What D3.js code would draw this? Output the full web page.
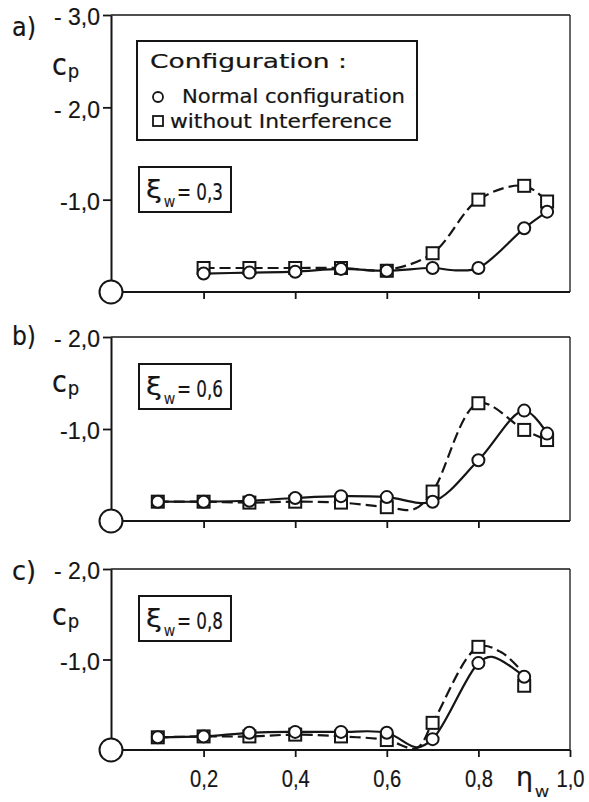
<!DOCTYPE html>
<html><head><meta charset="utf-8">
<script src="https://cdn.jsdelivr.net/npm/d3@7"></script>
<style>
html,body{margin:0;padding:0;background:#fff;}
svg{display:block;font-family:'Liberation Sans Narrow','DejaVu Sans Condensed','Liberation Sans',sans-serif;}
svg text{stroke:#151515;stroke-width:0.2px;}
</style></head><body>
<svg id="chart" width="589" height="802"></svg>
<script>
// ---------- data ----------
const etaTicks = [0.2, 0.4, 0.6, 0.8, 1.0];
const etaTickLabels = ["0,2", "0,4", "0,6", "0,8", "1,0"];
const cpTicksA = [1, 2, 3];
const cpTickLabelsA = ["-1,0", "- 2,0", "- 3,0"];
const cpTicksBC = [1, 2];
const cpTickLabelsBC = ["-1,0", "- 2,0"];
const panelLabels = ["a)", "b)", "c)"];
const xiLabels = ["0,3", "0,6", "0,8"];
const legendTitle = "Configuration :";
const seriesNames = ["Normal configuration", "without Interference"];

// panel a) xi_W = 0,3   (values are -c_p)
const etaA = [0.2, 0.3, 0.4, 0.5, 0.6, 0.7, 0.8, 0.9, 0.95];
const cpA_normal  = [0.20, 0.21, 0.22, 0.25, 0.23, 0.26, 0.26, 0.69, 0.87];
const cpA_without = [0.26, 0.26, 0.26, 0.26, 0.23, 0.42, 1.00, 1.15, 0.98];
// panel b) xi_W = 0,6
const etaB = [0.1, 0.2, 0.3, 0.4, 0.5, 0.6, 0.7, 0.8, 0.9, 0.95];
const cpB_normal  = [0.21, 0.21, 0.22, 0.25, 0.27, 0.26, 0.21, 0.66, 1.20, 0.95];
const cpB_without = [0.21, 0.21, 0.20, 0.21, 0.20, 0.15, 0.32, 1.28, 0.99, 0.88];
// panel c) xi_W = 0,8
const etaC = [0.1, 0.2, 0.3, 0.4, 0.5, 0.6, 0.7, 0.8, 0.9];
const cpC_normal  = [0.14, 0.15, 0.19, 0.20, 0.20, 0.19, 0.12, 0.96, 0.81];
const cpC_without = [0.14, 0.15, 0.15, 0.17, 0.15, 0.11, 0.30, 1.14, 0.71];

// hand-faired curves as drawn in the picture [eta, -cp]
const fitA_normal  = [[0.2,0.20],[0.3,0.21],[0.4,0.22],[0.5,0.25],[0.6,0.23],[0.7,0.26],[0.75,0.235],[0.8,0.26],[0.9,0.69],[0.95,0.87]];
const fitA_without = [[0.2,0.26],[0.3,0.26],[0.4,0.26],[0.5,0.26],[0.6,0.24],[0.7,0.42],[0.8,1.00],[0.9,1.15],[0.95,0.98]];
const fitB_normal  = [[0.1,0.21],[0.2,0.21],[0.3,0.22],[0.4,0.25],[0.5,0.27],[0.6,0.26],[0.7,0.21],[0.8,0.66],[0.9,1.20],[0.95,0.95]];
const fitB_without = [[0.1,0.21],[0.2,0.21],[0.3,0.20],[0.4,0.21],[0.5,0.20],[0.6,0.15],[0.66,0.13],[0.7,0.32],[0.8,1.28],[0.9,0.99],[0.95,0.88]];
const fitC_normal  = [[0.1,0.14],[0.2,0.15],[0.3,0.19],[0.4,0.20],[0.5,0.20],[0.6,0.19],[0.665,0.03],[0.7,0.12],[0.8,0.96],[0.83,1.03],[0.9,0.81]];
const fitC_without = [[0.1,0.14],[0.2,0.15],[0.3,0.15],[0.4,0.17],[0.5,0.15],[0.6,0.11],[0.665,0.02],[0.7,0.30],[0.8,1.14],[0.85,1.08],[0.9,0.84]];

// ---------- layout ----------
const INK = "#151515";
const svg = d3.select("#chart");
const x = d3.scaleLinear().domain([0, 1]).range([112, 570]);

const panels = [
  {label: panelLabels[0], xi: xiLabels[0], top: 15, bottom: 292, ymax: 3,
   ticks: cpTicksA, tickLabels: cpTickLabelsA, eta: etaA, n: cpA_normal, w: cpA_without,
   fitN: fitA_normal, fitW: fitA_without, xiBoxY: 167, labelDy: 13, cpY: 75, legend: true, xLabels: false},
  {label: panelLabels[1], xi: xiLabels[1], top: 337, bottom: 521, ymax: 2,
   ticks: cpTicksBC, tickLabels: cpTickLabelsBC, eta: etaB, n: cpB_normal, w: cpB_without,
   fitN: fitB_normal, fitW: fitB_without, xiBoxY: 364, labelDy: 0, cpY: 392, legend: false, xLabels: false},
  {label: panelLabels[2], xi: xiLabels[2], top: 569, bottom: 750, ymax: 2,
   ticks: cpTicksBC, tickLabels: cpTickLabelsBC, eta: etaC, n: cpC_normal, w: cpC_without,
   fitN: fitC_normal, fitW: fitC_without, xiBoxY: 596, labelDy: 3, cpY: 625, legend: false, xLabels: true}
];

panels.forEach(p => {
  const y = d3.scaleLinear().domain([0, p.ymax]).range([p.bottom, p.top]);
  const g = svg.append("g");
  const x0 = x.range()[0] - 1, x1 = x.range()[1];

  // thin frame (top & right)
  g.append("line").attr("x1", x0).attr("x2", x1).attr("y1", p.top).attr("y2", p.top)
    .attr("stroke", INK).attr("stroke-width", 1.3);
  g.append("line").attr("x1", x1).attr("x2", x1).attr("y1", p.top).attr("y2", p.bottom)
    .attr("stroke", INK).attr("stroke-width", 1.3);

  // y axis
  const ya = g.append("g").attr("transform", `translate(${x0},0)`)
    .call(d3.axisLeft(y).tickValues(p.ticks).tickSize(8).tickSizeOuter(0)
      .tickFormat((d, i) => p.tickLabels[i]).tickPadding(3));
  ya.select(".domain").attr("stroke", INK).attr("stroke-width", 2);
  ya.selectAll(".tick line").attr("stroke", INK).attr("stroke-width", 1.8);
  ya.selectAll(".tick text").attr("fill", INK).attr("font-size", 23)
    .attr("dy", "0.42em").attr("font-family", null)
    .attr("textLength", (d, i) => p.tickLabels[i].includes(" ") ? 46 : 40)
    .attr("lengthAdjust", "spacingAndGlyphs");

  // x axis
  const xa = g.append("g").attr("transform", `translate(0,${p.bottom})`)
    .call(d3.axisBottom(x).tickValues(p.xLabels ? etaTicks : etaTicks.slice(0, 4))
      .tickSize(7).tickSizeOuter(0)
      .tickFormat((d, i) => p.xLabels ? etaTickLabels[i] : ""));
  xa.select(".domain").attr("stroke", INK).attr("stroke-width", 2)
    .attr("d", `M${x0},0H${x1}`);
  xa.selectAll(".tick line").attr("stroke", INK).attr("stroke-width", 1.8);
  xa.selectAll(".tick text").attr("fill", INK).attr("font-size", 24)
    .attr("y", 37).attr("dy", 0).attr("font-family", null)
    .attr("textLength", 28).attr("lengthAdjust", "spacingAndGlyphs");

  // origin circle
  g.append("circle").attr("cx", x0).attr("cy", p.bottom).attr("r", 11.5)
    .attr("fill", "#fff").attr("stroke", INK).attr("stroke-width", 2);

  // panel label
  g.append("text").attr("x", 12).attr("y", p.top + 8 + p.labelDy).attr("font-size", 26)
    .attr("fill", INK).attr("textLength", 24).attr("lengthAdjust", "spacingAndGlyphs").text(p.label);

  // c_p label
  const cp = g.append("text").attr("x", 52).attr("y", p.cpY).attr("fill", INK);
  cp.append("tspan").attr("font-size", 30).text("c");
  cp.append("tspan").attr("font-size", 20).attr("dx", 1).attr("dy", 3).text("p");

  // xi box
  g.append("rect").attr("x", 139).attr("y", p.xiBoxY).attr("width", 92).attr("height", 45)
    .attr("fill", "#fff").attr("stroke", INK).attr("stroke-width", 2);
  g.append("text").attr("x", 146).attr("y", p.xiBoxY + 31).attr("fill", INK)
    .attr("font-size", 25).attr("font-family", "DejaVu Sans Condensed, sans-serif")
    .attr("textLength", 16).attr("lengthAdjust", "spacingAndGlyphs").text("ξ");
  g.append("text").attr("x", 164).attr("y", p.xiBoxY + 40).attr("fill", INK)
    .attr("font-size", 13).attr("textLength", 11).attr("lengthAdjust", "spacingAndGlyphs").text("W");
  g.append("text").attr("x", 177).attr("y", p.xiBoxY + 33).attr("fill", INK)
    .attr("font-size", 23).attr("textLength", 46).attr("lengthAdjust", "spacingAndGlyphs")
    .text("= " + p.xi);

  // curves
  const line = d3.line().x(d => x(d[0])).y(d => y(d[1])).curve(d3.curveCatmullRom.alpha(0.5));
  g.append("path").attr("d", line(p.fitW)).attr("fill", "none").attr("stroke", INK)
    .attr("stroke-width", 2.2).attr("stroke-dasharray", "11,5");
  g.append("path").attr("d", line(p.fitN)).attr("fill", "none").attr("stroke", INK)
    .attr("stroke-width", 2.2);

  // markers
  const s = 12;
  g.selectAll(".sq").data(p.eta.map((e, i) => [e, p.w[i]])).join("rect")
    .attr("x", d => x(d[0]) - s / 2).attr("y", d => y(d[1]) - s / 2)
    .attr("width", s).attr("height", s)
    .attr("fill", "#fff").attr("stroke", INK).attr("stroke-width", 2);
  g.selectAll(".ci").data(p.eta.map((e, i) => [e, p.n[i]])).join("circle")
    .attr("cx", d => x(d[0])).attr("cy", d => y(d[1])).attr("r", 6)
    .attr("fill", "#fff").attr("stroke", INK).attr("stroke-width", 2);

  // legend
  if (p.legend) {
    g.append("rect").attr("x", 137).attr("y", 41).attr("width", 280).attr("height", 99)
      .attr("fill", "#fff").attr("stroke", INK).attr("stroke-width", 2);
    g.append("text").attr("x", 150).attr("y", 68).attr("font-size", 20).attr("fill", INK)
      .attr("textLength", 197).attr("lengthAdjust", "spacingAndGlyphs").text(legendTitle);
    g.append("circle").attr("cx", 158).attr("cy", 97).attr("r", 5)
      .attr("fill", "#fff").attr("stroke", INK).attr("stroke-width", 1.8);
    g.append("text").attr("x", 182).attr("y", 103).attr("font-size", 20).attr("fill", INK)
      .attr("textLength", 223).attr("lengthAdjust", "spacingAndGlyphs").text(seriesNames[0]);
    g.append("rect").attr("x", 153).attr("y", 116).attr("width", 10).attr("height", 10)
      .attr("fill", "#fff").attr("stroke", INK).attr("stroke-width", 1.8);
    g.append("text").attr("x", 170).attr("y", 128).attr("font-size", 20).attr("fill", INK)
      .attr("textLength", 222).attr("lengthAdjust", "spacingAndGlyphs").text(seriesNames[1]);
  }
});

// x axis title eta_W
svg.append("text").attr("x", 516).attr("y", 786).attr("fill", INK)
  .attr("font-size", 27).attr("font-family", "DejaVu Sans Condensed, sans-serif")
  .attr("textLength", 17).attr("lengthAdjust", "spacingAndGlyphs").text("η");
svg.append("text").attr("x", 535).attr("y", 797).attr("fill", INK)
  .attr("font-size", 13).attr("textLength", 14).attr("lengthAdjust", "spacingAndGlyphs").text("W");
</script>
</body></html>
